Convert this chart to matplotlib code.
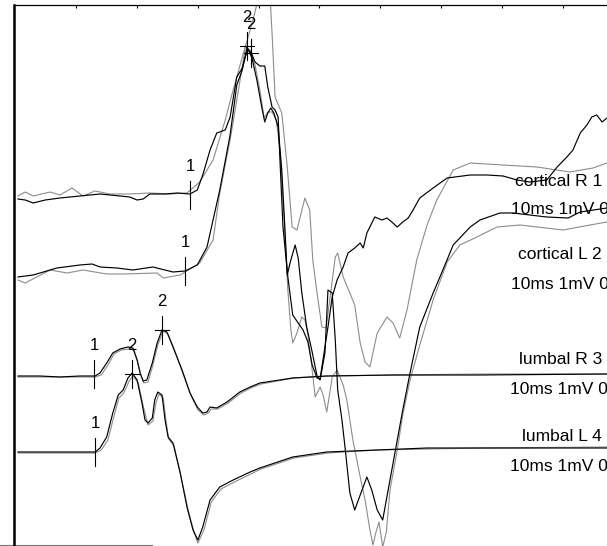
import matplotlib
matplotlib.use("Agg")
import matplotlib.pyplot as plt

plt.rcParams['font.family'] = ['Liberation Sans', 'DejaVu Sans']

# latency in ms, amplitude in display units (up = positive), per channel
cr_black_t = [0.4, 1.6, 2.9, 4.9, 7.3, 10.6, 13.9, 17.2, 18.8, 20.0, 21.0, 22.1, 24.6, 26.6, 28.7, 29.9,
              30.8, 32.0, 33.1, 34.5, 35.3, 36.4, 37.3, 37.8, 38.2, 38.7, 39.4, 40.2, 41.0, 41.5, 42.2,
              42.7, 43.2, 43.5, 44.0, 44.8, 45.6, 46.5, 47.3, 48.1, 48.8, 49.6, 50.1, 50.7, 51.4, 52.1,
              52.9, 53.9, 54.7, 55.8, 56.7, 57.2, 57.8, 59.1, 60.3, 61.1, 61.9, 62.8, 63.7, 64.6, 65.4,
              66.5, 68.7, 71.0, 74.8, 77.6, 80.2, 82.5, 84.6, 87.4, 89.1, 90.7, 91.7, 92.9, 94.0, 94.8,
              95.6, 96.5, 97.3]
cr_black_v = [-1, -2, -5, -2, 0, 2, 4, 2, 1, -2, -1, 4, 4, 5, 4, 8,
              23, 48, 65, 68, 81, 121, 130, 141, 148, 146, 136, 132, 132, 111, 91,
              88, 81, 38, -29, -79, -117, -125, -132, -144, -167, -180, -181, -157, -129, -99,
              -82, -69, -55, -50, -45, -50, -35, -19, -22, -20, -24, -29, -24, -20, -12,
              0, 10, 20, 23, 23, 22, 18, 16, 18, 31, 41, 48, 65, 73, 81,
              83, 76, 80]

cr_gray_t = [0.4, 1.6, 2.9, 5.7, 7.3, 9.3, 11.1, 13.1, 15.5, 18.8, 22.1, 25.4, 28.2, 30.3, 32.5,
             34.5, 35.8, 37.4, 38.6, 39.4, 40.2, 41.0, 41.9, 42.2, 42.7, 43.8, 44.7, 45.5, 46.3,
             47.6, 48.4, 48.9, 49.6, 50.4, 51.1, 52.6, 53.0, 53.9, 55.0, 55.8, 56.7, 57.5, 58.3,
             59.5, 61.1, 62.1, 63.2, 64.4, 66.0, 67.7, 69.3, 72.0, 74.8, 80.2, 85.8, 91.2, 95.0, 97.3]
cr_gray_v = [2, 6, 2, 6, 3, 10, 2, 7, 4, 4, 5, 4, 5, 16, 38,
             78, 108, 143, 168, 186, 208, 213, 198, 165, 101, 85, 31, -29, -32,
             0, -12, -62, -95, -129, -130, -59, -55, -79, -95, -107, -145, -164, -169,
             -135, -119, -125, -140, -112, -62, -27, -2, 28, 35, 33, 31, 26, 30, 35]

cl_black_t = [0.4, 2.9, 6.8, 10.6, 12.6, 13.9, 16.7, 19.3, 22.6, 25.9, 27.9, 29.9, 31.5, 33.6, 35.3,
              36.4, 37.3, 38.1, 38.9, 39.7, 40.5, 41.0, 41.5, 42.0, 42.5, 43.2, 43.8, 44.3, 44.7,
              45.2, 46.0, 46.5, 47.1, 47.9, 48.8, 49.6, 50.1, 50.9, 51.4, 52.1, 52.6, 53.0, 53.7,
              54.2, 55.0, 55.8, 56.7, 57.8, 58.6, 59.5, 60.4, 61.6, 62.8, 63.7, 64.9, 66.5, 68.7,
              70.3, 72.0, 74.8, 76.4, 79.7, 81.8, 87.4, 90.9, 92.9, 97.3]
cl_black_v = [0, 2, 9, 12, 13, 10, 9, 7, 10, 5, 6, 12, 30, 87, 142,
              192, 207, 230, 219, 197, 170, 155, 164, 169, 164, 150, 107, 50, 2,
              15, 32, 19, -16, -50, -75, -99, -103, -76, -13, -16, -63, -113, -143,
              -170, -216, -233, -218, -200, -213, -233, -243, -203, -163, -133, -96, -50, -16,
              7, 32, 50, 57, 64, 64, 60, 59, 65, 69]

cl_gray_t = [0.4, 1.6, 5.7, 8.5, 11.1, 15.0, 17.7, 23.3, 24.3, 27.1, 30.3, 32.5, 33.6, 35.3, 36.4,
             37.3, 37.8, 38.6, 39.4, 40.2, 40.9, 41.5, 42.2, 42.9, 43.5, 44.2, 44.8, 45.3, 45.6,
             46.3, 47.1, 47.6, 48.1, 48.8, 49.3, 50.1, 50.6, 51.2, 52.1, 52.9, 53.9, 54.5, 55.5,
             56.7, 57.5, 58.3, 58.8, 59.3, 59.8, 60.4, 61.0, 61.6, 62.8, 63.7, 64.9, 66.5, 68.7,
             71.0, 73.1, 75.9, 79.2, 83.0, 85.8, 90.1, 94.5, 97.3]
cl_gray_v = [-3, -6, 7, 4, 7, 3, 3, 4, -1, 2, 14, 37, 84, 137, 177,
             210, 230, 227, 212, 187, 159, 165, 165, 157, 127, 57, -13, -53, -66,
             -56, -40, -43, -58, -93, -120, -110, -118, -135, -100, -93, -108, -123, -163,
             -200, -223, -253, -268, -255, -245, -270, -255, -213, -173, -138, -103, -68, -23,
             15, 32, 40, 50, 52, 50, 47, 52, 55]

lr_black_t = [0.4, 4.0, 7.3, 10.6, 13.1, 13.9, 15.0, 16.0, 17.2, 18.5, 19.3, 20.0, 20.5, 21.0, 21.6,
              22.5, 23.3, 24.1, 24.9, 25.9, 27.4, 28.7, 29.9, 30.8, 31.5, 32.0, 33.1, 34.8, 36.9,
              38.6, 40.2, 45.6, 51.2, 62.1, 76.4, 97.3]
lr_black_v = [0, 0, -1, 0, 0, 3, 13, 23, 27, 29, 28, 16, 3, -5, -4,
              13, 33, 46, 44, 29, 6, -17, -31, -37, -36, -31, -32, -26, -16,
              -11, -7, -2, 0, 1, 1, 2]

lr_gray_t = [0.4, 4.0, 7.3, 10.6, 13.1, 14.1, 15.2, 16.2, 17.4, 18.7, 19.5, 20.1, 20.6, 21.1, 21.8,
             22.6, 23.4, 24.3, 25.1, 26.1, 27.5, 28.9, 30.0, 31.0, 31.7, 32.2, 33.3, 35.0, 37.1,
             38.7, 40.4, 45.8, 51.4, 62.2, 76.6, 97.3]
lr_gray_v = [-1, -1, -1, -1, -1, 1, 11, 22, 26, 27, 26, 14, 1, -7, -6,
             11, 31, 45, 42, 27, 3, -20, -34, -39, -37, -33, -33, -27, -17,
             -12, -8, -2, 0, 1, 2, 2]

ll_black_t = [0.4, 5.7, 13.1, 13.9, 15.0, 16.0, 16.9, 17.7, 18.5, 19.2, 20.0, 20.8, 21.3, 21.8, 22.5,
              22.9, 23.4, 24.1, 24.6, 25.1, 25.9, 27.1, 28.2, 29.2, 30.0, 30.8, 32.0, 33.6, 35.8,
              38.6, 40.2, 45.6, 51.2, 59.5, 67.7, 76.4, 97.3]
ll_black_v = [0, 0, 0, 4, 15, 39, 57, 62, 74, 79, 72, 49, 32, 29, 34,
              52, 60, 57, 32, 15, 9, -21, -55, -78, -88, -75, -48, -35, -28,
              -20, -16, -5, 0, 2, 4, 4, 4]

ll_gray_t = [0.4, 5.7, 13.1, 14.1, 15.2, 16.2, 17.0, 17.8, 18.7, 19.3, 20.2, 21.0, 21.8, 22.6, 23.1,
             23.6, 24.3, 24.8, 25.2, 26.1, 27.2, 28.4, 29.4, 30.0, 31.0, 32.2, 33.8, 36.0, 38.7,
             40.4, 45.8, 51.4, 59.6, 67.8, 76.6, 97.3]
ll_gray_v = [-1, -1, -1, 2, 12, 36, 54, 59, 71, 76, 69, 46, 27, 31, 49,
             58, 54, 29, 13, 6, -24, -58, -81, -91, -78, -50, -37, -30, -22,
             -17, -6, -1, 2, 3, 4, 5]

channel_names = ['cortical R 1', 'cortical L 2', 'lumbal R 3', 'lumbal L 4']
scale_label = '10ms 1mV 0'

# marker latencies (ms) and amplitudes for labels 1 and 2
m1_t = [28.7, 27.9, 12.9, 13.1]
m1_v = [3, 6, 2, 0]
m2_t = [38.7, 38.1, 24.1, 19.2]
m2_v = [145, 231, 46, 78]

# layout
offsets = [-198, -277, -376, -452]
name_pos = [(82.2, -186), (82.7, -259), (82.8, -364), (83.3, -441)]
scale_pos = [(81.5, -214), (81.5, -289), (81.3, -394), (81.3, -471)]

fig = plt.figure(figsize=(6.07, 5.46), dpi=100)
ax = fig.add_axes([14 / 607, 0, 1 - 14 / 607, (546 - 4.5) / 546])
ax.set_xlim(-0.25, 97.3)
ax.set_ylim(-546, -4.5)

gray = '#8c8c8c'
traces = [
    (cr_black_t, cr_black_v, cr_gray_t, cr_gray_v),
    (cl_black_t, cl_black_v, cl_gray_t, cl_gray_v),
    (lr_black_t, lr_black_v, lr_gray_t, lr_gray_v),
    (ll_black_t, ll_black_v, ll_gray_t, ll_gray_v),
]
for (bt, bv, gt, gv), off in zip(traces, offsets):
    ax.plot(gt, [v + off for v in gv], color=gray, lw=0.8)
for (bt, bv, gt, gv), off in zip(traces, offsets):
    ax.plot(bt, [v + off for v in bv], color='black', lw=0.85)

for i, off in enumerate(offsets):
    t, y = m1_t[i], m1_v[i] + off
    ax.plot([t, t], [y - 14, y + 14], color='black', lw=0.8)
    ax.text(t, y + 24, '1', ha='center', va='baseline', fontsize=12)
    t, y = m2_t[i], m2_v[i] + off
    ax.plot([t, t], [y - 14, y + 14], color='black', lw=0.8)
    ax.plot([t - 1.15, t + 1.15], [y, y], color='black', lw=0.8)
    ax.text(t, y + 24, '2', ha='center', va='baseline', fontsize=12)

for name, (nx, ny), (sx, sy) in zip(channel_names, name_pos, scale_pos):
    ax.text(nx, ny, name, ha='left', va='baseline', fontsize=12.5, clip_on=True)
    ax.text(sx, sy, scale_label, ha='left', va='baseline', fontsize=12.5, clip_on=True)

ax.plot([-2.6, 22.5], [-545, -545], color='#777777', lw=0.8, clip_on=False)

for s in ['right', 'bottom']:
    ax.spines[s].set_visible(False)
ax.spines['left'].set_linewidth(1.8)
ax.spines['top'].set_linewidth(0.9)
ax.set_xticks([10, 20, 30, 40, 50, 60, 70, 80, 90])
ax.tick_params(axis='x', which='both', top=True, bottom=False, labeltop=False, labelbottom=False,
               direction='in', length=2.5, width=0.8)
ax.set_yticks([])

fig.savefig('out.png', dpi=100)
